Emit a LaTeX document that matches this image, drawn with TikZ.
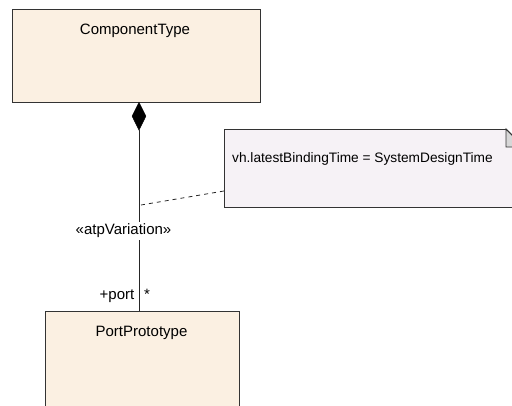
\documentclass[tikz,border=0pt]{standalone}
\usepackage{fontspec}
\setmainfont{Liberation Sans}
\usetikzlibrary{shapes.geometric}
\definecolor{clsfill}{RGB}{251,240,226}
\definecolor{notefill}{RGB}{246,242,246}
\definecolor{foldfill}{RGB}{215,215,215}
\begin{document}
\begin{tikzpicture}[x=1pt,y=-1pt,
  cls/.style={draw=black!80, fill=clsfill, line width=0.9pt, anchor=north west, inner sep=0pt},
  lbl/.style={font=\fontsize{15}{17}\selectfont, inner sep=0pt},
  conn/.style={draw=black!85, line width=0.9pt}]
\useasboundingbox (0,0) rectangle (512,405);
\begin{scope}
\clip (0,0) rectangle (512,405);
% ComponentType
\node[cls, minimum width=248pt, minimum height=93pt] (ct) at (12,9) {};
\node[lbl] (ctt) at (135,31) {ComponentType};
% PortPrototype
\node[cls, minimum width=194pt, minimum height=120pt] (pp) at (45,311) {};
\node[lbl] (ppt) at (141.5,333) {PortPrototype};
% Note
\fill[notefill] (224,129) -- (506,129) -- (524,147) -- (524,207) -- (224,207) -- cycle;
\draw[black!80, line width=0.9pt] (506,129) -- (224,129) -- (224,207) -- (524,207);
\draw[black!80, line width=0.9pt, fill=foldfill] (506,129) -- (506,147) -- (524,147) -- cycle;
\draw[black!80, line width=0.9pt] (506,129) -- (524,147);
\node[inner sep=0pt, anchor=west, font=\fontsize{13.7}{16}\selectfont] (notet) at (232,159) {vh.latestBindingTime = SystemDesignTime};
\coordinate (note) at (224,191);
% composition
\coordinate (dtop) at (139,102);
\node[draw=black, fill=black, diamond, inner sep=0pt, minimum width=14pt, minimum height=28pt, anchor=north] (dia) at (dtop) {};
\coordinate (pend) at (139,311);
\draw[conn] (dia.south) -- (pend);
\coordinate (anc) at (141,205);
\draw[black!85, line width=0.8pt, dash pattern=on 4pt off 4pt] (anc) -- (note);
\node[lbl, fill=white, inner ysep=2pt, inner xsep=0pt] (stereo) at (123.5,231) {«atpVariation»};
\node[lbl, anchor=east] (role) at (134.5,296) {+port};
\node[lbl, anchor=west] (mult) at (144,294) {*};
\end{scope}
\end{tikzpicture}
\end{document}
